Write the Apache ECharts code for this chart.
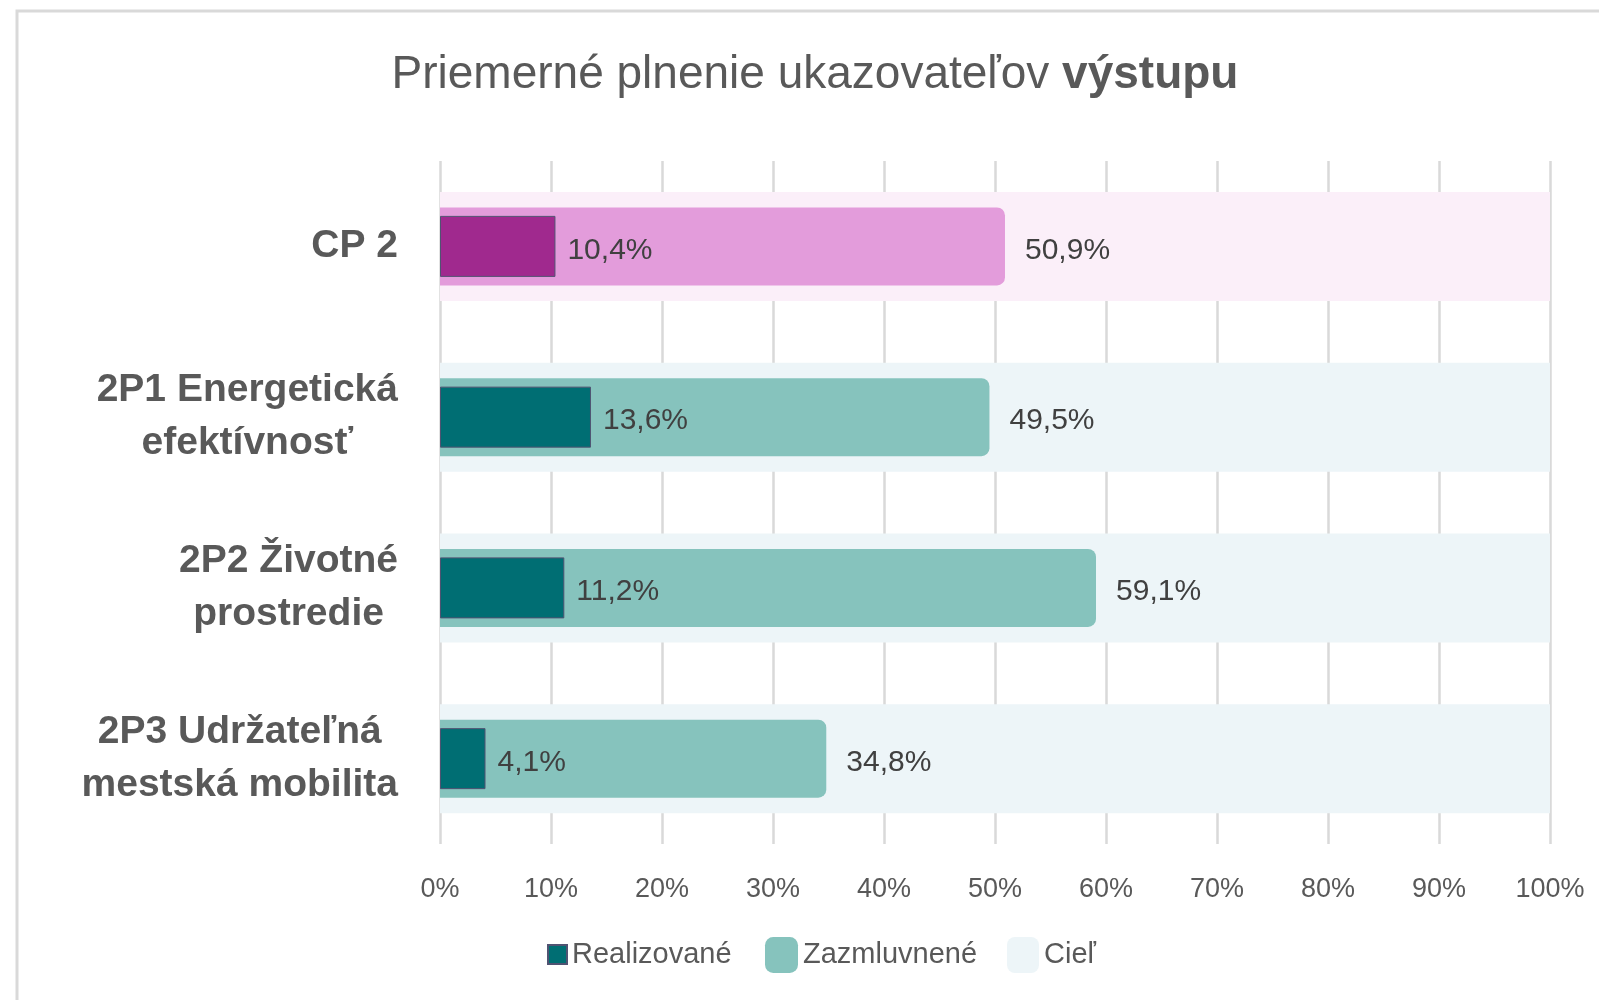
<!DOCTYPE html>
<html>
<head>
<meta charset="utf-8">
<script src="https://cdn.jsdelivr.net/npm/echarts@6.0.0/dist/echarts.min.js"></script>
<style>
  html, body { margin: 0; padding: 0; background: #fff; }
  #chart { width: 1599px; height: 1000px; }
</style>
</head>
<body>
<div id="chart"></div>
<script>
// ------------------------------------------------------------
// Data
// ------------------------------------------------------------

const categories = [
  "CP 2",
  "2P1 Energetická\nefektívnosť",
  "2P2 Životné\nprostredie",
  "2P3 Udržateľná\nmestská mobilita",
];
const realizovane = [10.4, 13.6, 11.2, 4.1];
const zazmluvnene = [50.9, 49.5, 59.1, 34.8];
const ciel = [100, 100, 100, 100];
const xTicks = [0, 10, 20, 30, 40, 50, 60, 70, 80, 90, 100];

// the first row (CP 2) is drawn in the magenta palette
const palette = {
  real: ["#a0298e", "#006e73"],
  zazm: ["#e39cdb", "#86c3bd"],
  ciel: ["#fbeff9", "#edf5f8"],
};
const pick = (colors) => (p) => (p.dataIndex === 0 ? colors[0] : colors[1]);

const fmtPct = (v) => v.toFixed(1).replace(".", ",") + "%";

const labelStyle = (distance) => ({
  show: true,
  position: "right",
  distance: distance,
  offset: [0, 4],
  fontFamily: "Liberation Sans",
  fontSize: 30,
  color: "#404040",
  formatter: (p) => fmtPct(p.value),
});

const hiddenCatAxis = {
  type: "category",
  data: categories,
  inverse: true,
  show: false,
};

// ------------------------------------------------------------
// Options
// ------------------------------------------------------------

const legendText = { fontFamily: "Liberation Sans", fontSize: 29, color: "#595959" };

const option = {
  animation: false,
  backgroundColor: "#ffffff",
  title: {
    text: "{a|Priemerné plnenie ukazovateľov }{b|výstupu}",
    left: 815,
    top: 52,
    textAlign: "center",
    padding: 0,
    textStyle: {
      fontWeight: "normal",
      rich: {
        a: { fontFamily: "Liberation Sans", fontSize: 46, fontWeight: "normal", color: "#595959" },
        b: { fontFamily: "Liberation Sans", fontSize: 46, fontWeight: "bold", color: "#595959" },
      },
    },
  },
  graphic: [
    {
      type: "rect",
      silent: true,
      shape: { x: 17, y: 11, width: 1700, height: 1200 },
      style: { fill: "none", stroke: "#d9d9d9", lineWidth: 3 },
    },
  ],
  legend: [
    {
      data: [{ name: "Realizované", icon: "rect", itemStyle: { color: palette.real[1] } }],
      left: 547,
      top: 940,
      padding: 0,
      itemWidth: 19,
      itemHeight: 19,
      textStyle: legendText,
    },
    {
      data: [{ name: "Zazmluvnené", icon: "roundRect", itemStyle: { color: palette.zazm[1] } }],
      left: 765,
      top: 937,
      padding: 0,
      itemWidth: 33,
      itemHeight: 36,
      textStyle: legendText,
    },
    {
      data: [{ name: "Cieľ", icon: "roundRect", itemStyle: { color: palette.ciel[1] } }],
      left: 1007,
      top: 937,
      padding: 0,
      itemWidth: 32,
      itemHeight: 36,
      textStyle: legendText,
    },
  ],
  grid: {
    left: 440,
    right: 49,
    top: 161,
    bottom: 156,
    containLabel: false,
  },
  xAxis: {
    type: "value",
    min: xTicks[0],
    max: xTicks[xTicks.length - 1],
    interval: xTicks[1] - xTicks[0],
    axisLine: { show: false },
    axisTick: { show: false },
    splitLine: { lineStyle: { color: "#d9d9d9", width: 2.5 } },
    axisLabel: {
      margin: 32,
      fontFamily: "Liberation Sans",
      fontSize: 27,
      color: "#595959",
      formatter: "{value}%",
    },
  },
  yAxis: [
    {
      type: "category",
      data: categories,
      inverse: true,
      axisLine: { show: false },
      axisTick: { show: false },
      axisLabel: {
        margin: 42,
        align: "right",
        formatter: (v) => v.split("\n").map((line) => "{c|" + line + "}").join("\n"),
        rich: {
          c: {
            align: "center",
            fontFamily: "Liberation Sans",
            fontWeight: "bold",
            fontSize: 39,
            lineHeight: 53,
            color: "#595959",
          },
        },
      },
    },
    hiddenCatAxis,
    hiddenCatAxis,
  ],
  series: [
    {
      name: "Cieľ",
      type: "bar",
      yAxisIndex: 0,
      data: ciel,
      barWidth: 109,
      silent: true,
      itemStyle: { color: pick(palette.ciel) },
      z: 1,
    },
    {
      name: "Zazmluvnené",
      type: "bar",
      yAxisIndex: 1,
      data: zazmluvnene,
      barWidth: 78,
      itemStyle: { color: pick(palette.zazm), borderRadius: [0, 8, 8, 0] },
      label: labelStyle(20),
      z: 2,
    },
    {
      name: "Realizované",
      type: "bar",
      yAxisIndex: 2,
      data: realizovane,
      barWidth: 61,
      itemStyle: {
        color: pick(palette.real),
        borderColor: (p) => (p.dataIndex === 0 ? "#b04a9f" : "#2a8589"),
        borderWidth: 1,
      },
      label: labelStyle(12),
      z: 3,
    },
  ],
};

echarts.init(document.getElementById("chart")).setOption(option);
</script>
</body>
</html>
